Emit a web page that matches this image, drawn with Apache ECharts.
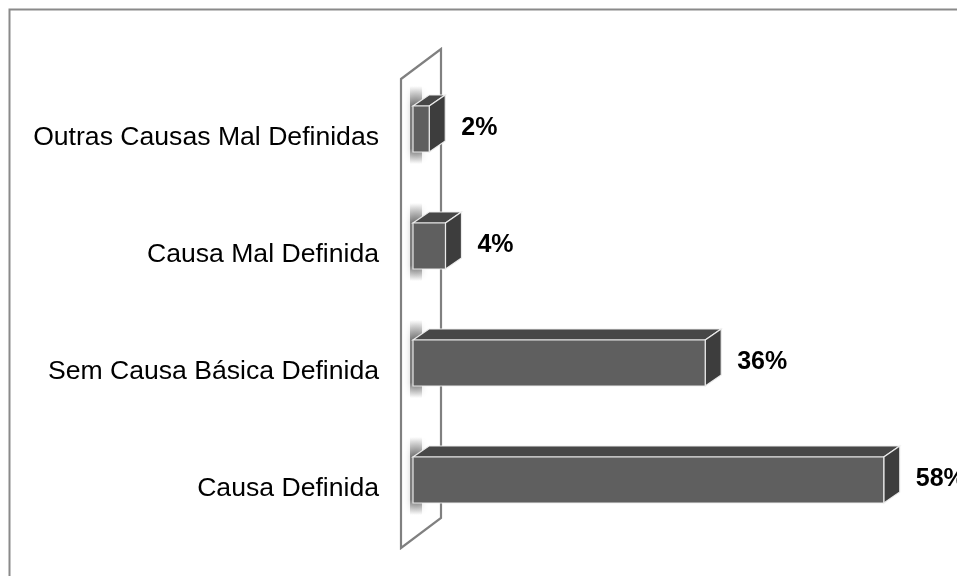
<!DOCTYPE html>
<html>
<head>
<meta charset="utf-8">
<script src="https://cdn.jsdelivr.net/npm/echarts@6/dist/echarts.min.js"></script>
<style>
  html, body { margin: 0; padding: 0; background: #fff; }
  #chart { width: 957px; height: 576px; }
</style>
</head>
<body>
<div id="chart"></div>
<script>
// Categories, top to bottom
const categories = [
  'Outras Causas Mal Definidas',
  'Causa Mal Definida',
  'Sem Causa Básica Definida',
  'Causa Definida'
];
// Share of each group (%)
const values = [2, 4, 36, 58];
const valueLabels = ['2%', '4%', '36%', '58%'];

const FONT = '"Liberation Sans", Arial, sans-serif';
const DEPTH_X = 16, DEPTH_Y = -11;      // bar extrusion
const WALL_X = 40, WALL_Y = -30;        // back wall depth

const chart = echarts.init(document.getElementById('chart'), null, { renderer: 'canvas' });

// 3D-looking horizontal bar: soft shadow, top face, side face, front face, value label
function renderBar(params, api) {
  const i = params.dataIndex;
  const v = api.value(0), idx = api.value(1);
  const p0 = api.coord([0, idx]);
  const p1 = api.coord([v, idx]);
  const h = api.size([0, 1])[1] * 0.393;
  const x0 = p0[0], x1 = p1[0];
  const top = p0[1] - h / 2, bot = p0[1] + h / 2;
  const edge = { stroke: 'rgba(238,238,238,0.95)', lineWidth: 1.2 };
  const shadowFill = new echarts.graphic.LinearGradient(0, 0, 0, 1, [
    { offset: 0, color: 'rgba(0,0,0,0)' },
    { offset: 0.25, color: 'rgba(0,0,0,0.45)' },
    { offset: 0.8, color: 'rgba(0,0,0,0.45)' },
    { offset: 1, color: 'rgba(0,0,0,0)' }
  ]);
  return {
    type: 'group',
    children: [
      {
        type: 'rect',
        shape: { x: x0 - 3, y: top - 20, width: 12, height: h + 32 },
        style: { fill: shadowFill, shadowBlur: 6, shadowColor: 'rgba(0,0,0,0.4)' }
      },
      {
        type: 'polygon',
        shape: { points: [[x0, top], [x1, top], [x1 + DEPTH_X, top + DEPTH_Y], [x0 + DEPTH_X, top + DEPTH_Y]] },
        style: Object.assign({ fill: '#474747' }, edge)
      },
      {
        type: 'polygon',
        shape: { points: [[x1, top], [x1 + DEPTH_X, top + DEPTH_Y], [x1 + DEPTH_X, bot + DEPTH_Y], [x1, bot]] },
        style: Object.assign({ fill: '#3d3d3d' }, edge)
      },
      {
        type: 'rect',
        shape: { x: x0, y: top, width: x1 - x0, height: h },
        style: Object.assign({ fill: '#5f5f5f' }, edge)
      },
      {
        type: 'text',
        x: x1 + DEPTH_X + 16,
        y: p0[1] - 1,
        style: {
          text: valueLabels[i],
          font: 'bold 25px ' + FONT,
          fill: '#000',
          align: 'left',
          verticalAlign: 'middle'
        }
      }
    ]
  };
}

// Back wall of the plot, drawn as an extruded outline left of the bars
function renderWall(params, api) {
  const cs = params.coordSys;
  const lx = cs.x - 12;
  const ty = cs.y + 8.5;
  const by = cs.y + cs.height + 9.5;
  return {
    type: 'polygon',
    shape: { points: [[lx, ty], [lx + WALL_X, ty + WALL_Y], [lx + WALL_X, by + WALL_Y], [lx, by]] },
    style: { fill: '#fff', stroke: '#808080', lineWidth: 2.2 }
  };
}

chart.setOption({
  backgroundColor: '#fff',
  animation: false,
  graphic: [{
    type: 'rect',
    z: -10,
    shape: { x: 9.5, y: 9.5, width: 1000, height: 1000 },
    style: { fill: 'none', stroke: '#8a8a8a', lineWidth: 2 }
  }],
  grid: { left: 413, top: 70.5, width: 487, height: 468 },
  xAxis: {
    type: 'value',
    min: 0,
    max: 60,
    show: false
  },
  yAxis: {
    type: 'category',
    inverse: true,
    data: categories,
    axisLine: { show: false },
    axisTick: { show: false },
    splitLine: { show: false },
    axisLabel: {
      fontSize: 26.6,
      fontFamily: FONT,
      color: '#000',
      margin: 34,
      verticalAlign: 'top',
      lineHeight: 18
    }
  },
  series: [
    {
      type: 'custom',
      z: 1,
      clip: false,
      renderItem: renderWall,
      data: [[0, 0]],
      encode: { x: 0, y: 1 },
      silent: true
    },
    {
      type: 'custom',
      z: 2,
      clip: false,
      renderItem: renderBar,
      data: values.map((v, i) => [v, i]),
      encode: { x: 0, y: 1 }
    }
  ]
});
</script>
</body>
</html>
